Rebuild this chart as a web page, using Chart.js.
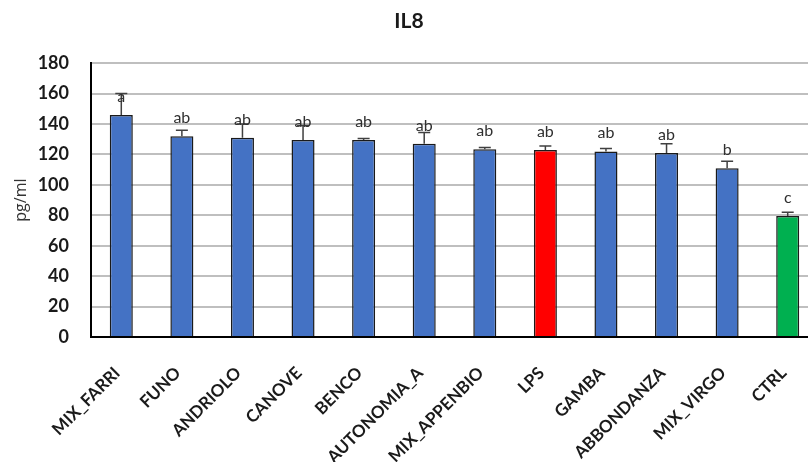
<!DOCTYPE html>
<html>
<head>
<meta charset="utf-8">
<script src="https://cdn.jsdelivr.net/npm/chart.js@4"></script>
<style>
  html, body { margin: 0; padding: 0; background: #fff; overflow: hidden; }
  #wrap { width: 824px; height: 462px; }
</style>
</head>
<body>
<div id="wrap"><canvas id="myChart" width="824" height="462"></canvas></div>
<script>
// categories
const samples = ['MIX_FARRI', 'FUNO', 'ANDRIOLO', 'CANOVE', 'BENCO', 'AUTONOMIA_A',
  'MIX_APPENBIO', 'LPS', 'GAMBA', 'ABBONDANZA', 'MIX_VIRGO', 'CTRL'];
// mean values, pg/ml
const il8 = [146, 132, 131, 129.5, 129.5, 127, 123.5, 123, 122, 121, 111, 79.5];
// upper error (SD)
const il8Err = [14, 4, 9, 9.5, 1, 7.5, 1, 2.5, 2, 6, 4.5, 2.5];
// significance letters
const letters = ['a', 'ab', 'ab', 'ab', 'ab', 'ab', 'ab', 'ab', 'ab', 'ab', 'b', 'c'];
const yTicks = [0, 20, 40, 60, 80, 100, 120, 140, 160, 180];

const barColors = samples.map(s => s === 'LPS' ? '#FF0000' : (s === 'CTRL' ? '#00B050' : '#4472C4'));

// error bars, then the letters sitting a fixed gap above each bar
const errorBars = {
  id: 'errorBars',
  afterDatasetsDraw(chart) {
    const c = chart.ctx;
    const y = chart.scales.y;
    const meta = chart.getDatasetMeta(0);
    c.save();
    meta.data.forEach((bar, i) => {
      const top = y.getPixelForValue(il8[i] + il8Err[i]);
      c.strokeStyle = '#404040';
      c.lineWidth = 1.5;
      c.beginPath();
      c.moveTo(bar.x, bar.y);
      c.lineTo(bar.x, top);
      c.moveTo(bar.x - 6, top);
      c.lineTo(bar.x + 6, top);
      c.stroke();
    });
    c.fillStyle = '#303030';
    c.font = '16px Lato';
    c.textAlign = 'center';
    c.textBaseline = 'alphabetic';
    meta.data.forEach((bar, i) => {
      c.fillText(letters[i], bar.x, bar.y - 13);
    });
    c.restore();
  }
};

const ctx = document.getElementById('myChart').getContext('2d');

const chart = new Chart(ctx, {
  type: 'bar',
  data: {
    labels: samples,
    datasets: [{
      label: 'IL8',
      data: il8,
      backgroundColor: barColors,
      borderColor: '#1a1a1a',
      borderWidth: 1.5,
      barPercentage: 0.38,
      categoryPercentage: 1.0,
    }]
  },
  options: {
    responsive: false,
    animation: false,
    layout: { padding: { left: 0, right: 6, top: 0, bottom: 0 } },
    plugins: {
      legend: { display: false },
      tooltip: { enabled: false },
      title: {
        display: true,
        text: 'IL8',
        color: '#1a1a1a',
        font: { family: 'Lato', size: 21, weight: 'bold' },
        padding: { top: 9, bottom: 29 },
      }
    },
    scales: {
      x: {
        grid: { display: false, drawTicks: false },
        border: { color: '#000', width: 2 },
        afterFit(scale) {
          scale.height = 125;
          scale.paddingLeft = 0;
          scale.paddingRight = 0;
        },
        ticks: {
          autoSkip: false,
          minRotation: 45,
          maxRotation: 45,
          padding: 26,
          labelOffset: -4,
          color: '#1a1a1a',
          font: { family: 'Lato', size: 17, weight: 'bold' },
        }
      },
      y: {
        min: 0,
        max: 180,
        afterBuildTicks(scale) { scale.ticks = yTicks.map(v => ({ value: v })); },
        afterFit(scale) { scale.width = 91; },
        grid: { color: '#BFBFBF', lineWidth: 2, drawTicks: false },
        border: { color: '#000', width: 2 },
        title: {
          display: true,
          text: 'pg/ml',
          color: '#333',
          font: { family: 'Open Sans', size: 16 },
          padding: { top: 12, bottom: 0 },
        },
        ticks: {
          padding: 22,
          color: '#1a1a1a',
          font: { family: 'Lato', size: 18, weight: 'bold' },
        }
      }
    }
  },
  plugins: [errorBars],
});
</script>
</body>
</html>
